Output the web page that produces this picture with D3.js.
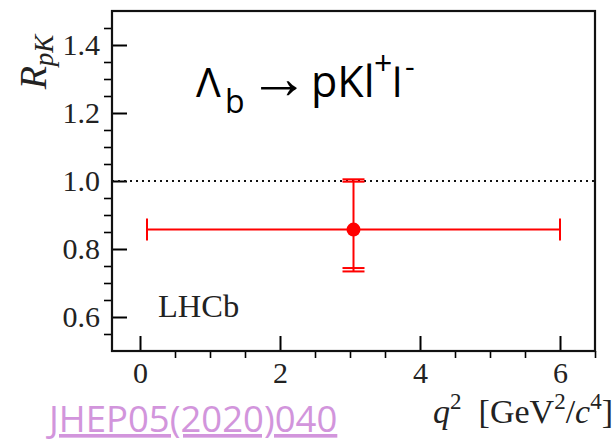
<!DOCTYPE html>
<html>
<head>
<meta charset="utf-8">
<script src="https://cdn.jsdelivr.net/npm/d3@7"></script>
<style>
  body { margin: 0; background: #fff; }
  svg { display: block; }
</style>
</head>
<body>
<svg id="chart" width="616" height="441"></svg>
<script>
// measurement: R_pK in q^2 bin
var qLow = [0.1];
var qHigh = [6.0];
var rpk = [0.857];
var statUp = [0.141];
var statDown = [0.113];
var totUp = [0.148];
var totDown = [0.123];

var xMajor = [0, 2, 4, 6];
var xMinor = [0.5, 1, 1.5, 2.5, 3, 3.5, 4.5, 5, 5.5, 6.5];
var yMajor = [0.6, 0.8, 1.0, 1.2, 1.4];
var yMinor = [0.55, 0.65, 0.7, 0.75, 0.85, 0.9, 0.95, 1.05, 1.1, 1.15, 1.25, 1.3, 1.35, 1.45];
var refLine = [1.0];

(function () {
    'use strict';

    var svg = d3.select('#chart');
    var mL = 112, mR = 595, mT = 11, mB = 351;
    var serif = '"Liberation Serif", "DejaVu Serif", serif';
    var sans = '"Open Sans", "Noto Sans", sans-serif';

    var x = d3.scaleLinear().domain([-0.4, 6.5]).range([mL, mR]);
    var y = d3.scaleLinear().domain([0.5, 1.5]).range([mB, mT]);

    /*====================================
      Axes
    ======================================*/
    svg.append('g')
        .attr('transform', 'translate(0,' + mB + ')')
        .call(d3.axisBottom(x).tickValues(xMajor).tickSize(-15).tickPadding(11).tickFormat(d3.format('d')))
        .attr('font-family', serif).attr('font-size', 30)
        .call(function (g) {
            g.select('.domain').remove();
            g.selectAll('line').attr('stroke-width', 2);
            g.selectAll('text').attr('fill', '#222');
        });
    svg.append('g')
        .attr('transform', 'translate(0,' + mB + ')')
        .call(d3.axisBottom(x).tickValues(xMinor).tickSize(7).tickFormat(''))
        .call(function (g) {
            g.select('.domain').remove();
            g.selectAll('line').attr('stroke-width', 1.6);
        });

    svg.append('g')
        .attr('transform', 'translate(' + mL + ',0)')
        .call(d3.axisLeft(y).tickValues(yMajor).tickSize(-15).tickPadding(12).tickFormat(d3.format('.1f')))
        .attr('font-family', serif).attr('font-size', 30)
        .call(function (g) {
            g.select('.domain').remove();
            g.selectAll('line').attr('stroke-width', 2);
            g.selectAll('text').attr('fill', '#222');
        });
    svg.append('g')
        .attr('transform', 'translate(' + mL + ',0)')
        .call(d3.axisLeft(y).tickValues(yMinor).tickSize(8).tickFormat(''))
        .call(function (g) {
            g.select('.domain').remove();
            g.selectAll('line').attr('stroke-width', 1.6);
        });

    // frame
    svg.append('rect')
        .attr('x', mL).attr('y', mT)
        .attr('width', mR - mL).attr('height', mB - mT)
        .attr('fill', 'none').attr('stroke', '#111').attr('stroke-width', 2.2);

    // SM reference line
    svg.selectAll('.ref')
        .data(refLine)
        .enter().append('line')
        .attr('class', 'ref')
        .attr('x1', mL).attr('x2', mR)
        .attr('y1', function (d) { return y(d); })
        .attr('y2', function (d) { return y(d); })
        .attr('stroke', '#111').attr('stroke-width', 1.8)
        .attr('stroke-dasharray', '2,4');

    /*====================================
      Data point with error bars
    ======================================*/
    var red = '#ff0000';
    var pts = rpk.map(function (v, i) {
        return { lo: qLow[i], hi: qHigh[i], c: (qLow[i] + qHigh[i]) / 2, v: v,
                 su: statUp[i], sd: statDown[i], tu: totUp[i], td: totDown[i] };
    });
    var gp = svg.append('g').attr('stroke', red).attr('stroke-width', 2).attr('fill', 'none');

    pts.forEach(function (p) {
        // horizontal bin
        gp.append('line').attr('x1', x(p.lo)).attr('x2', x(p.hi)).attr('y1', y(p.v)).attr('y2', y(p.v));
        [p.lo, p.hi].forEach(function (q) {
            gp.append('line').attr('x1', x(q)).attr('x2', x(q)).attr('y1', y(p.v) - 11).attr('y2', y(p.v) + 11);
        });
        // vertical total error, caps for stat and total
        gp.append('line').attr('x1', x(p.c)).attr('x2', x(p.c)).attr('y1', y(p.v + p.tu)).attr('y2', y(p.v - p.td));
        [p.v + p.su, p.v + p.tu, p.v - p.sd, p.v - p.td].forEach(function (e) {
            gp.append('line').attr('x1', x(p.c) - 11).attr('x2', x(p.c) + 11).attr('y1', y(e)).attr('y2', y(e));
        });
        svg.append('circle').attr('cx', x(p.c)).attr('cy', y(p.v)).attr('r', 7).attr('fill', red);
    });

    /*====================================
      Labels
    ======================================*/
    var yl = svg.append('text')
        .attr('transform', 'translate(46,62) rotate(-90)')
        .attr('text-anchor', 'middle')
        .attr('font-family', serif).attr('font-size', 38).attr('font-style', 'italic').attr('fill', '#222');
    yl.append('tspan').text('R');
    yl.append('tspan').attr('font-size', 27).attr('dy', 7).text('pK');

    var xl = svg.append('text')
        .attr('x', 613).attr('y', 423)
        .attr('text-anchor', 'end')
        .attr('font-family', serif).attr('font-size', 34).attr('fill', '#222');
    xl.append('tspan').attr('font-style', 'italic').text('q');
    xl.append('tspan').attr('font-size', 23).attr('dy', -14).text('2');
    xl.append('tspan').attr('dy', 14).text('\u00a0\u00a0[GeV');
    xl.append('tspan').attr('font-size', 23).attr('dy', -14).text('2');
    xl.append('tspan').attr('dy', 14).text('/');
    xl.append('tspan').attr('font-style', 'italic').text('c');
    xl.append('tspan').attr('font-size', 23).attr('dy', -14).text('4');
    xl.append('tspan').attr('dy', 14).text(']');

    svg.append('text')
        .attr('x', 158).attr('y', 317)
        .attr('font-family', serif).attr('font-size', 32.5).attr('fill', '#222')
        .text('LHCb');

    // decay title, pieces placed one by one
    var title = svg.append('text')
        .attr('font-family', sans).attr('font-size', 41).attr('fill', '#000');
    title.append('tspan').attr('x', 196).attr('y', 97).text('\u039b');
    title.append('tspan').attr('x', 225).attr('y', 113).attr('font-size', 32).text('b');
    title.append('tspan').attr('x', 249).attr('y', 98)
        .attr('font-family', '"Liberation Sans", sans-serif').attr('font-size', 60).text('\u2192');
    title.append('tspan').attr('x', 311).attr('y', 97).attr('font-size', 43).text('pKl');
    title.append('tspan').attr('x', 374).attr('y', 75).attr('font-size', 32).text('+');
    title.append('tspan').attr('x', 392).attr('y', 97).text('l');
    title.append('tspan').attr('x', 405).attr('y', 77).attr('font-size', 30).text('-');

    svg.append('text')
        .attr('x', 49).attr('y', 432)
        .attr('font-family', sans).attr('font-size', 36.5).attr('fill', '#d295dc')
        .attr('text-decoration', 'underline')
        .text('JHEP05(2020)040');
}());
</script>
</body>
</html>
